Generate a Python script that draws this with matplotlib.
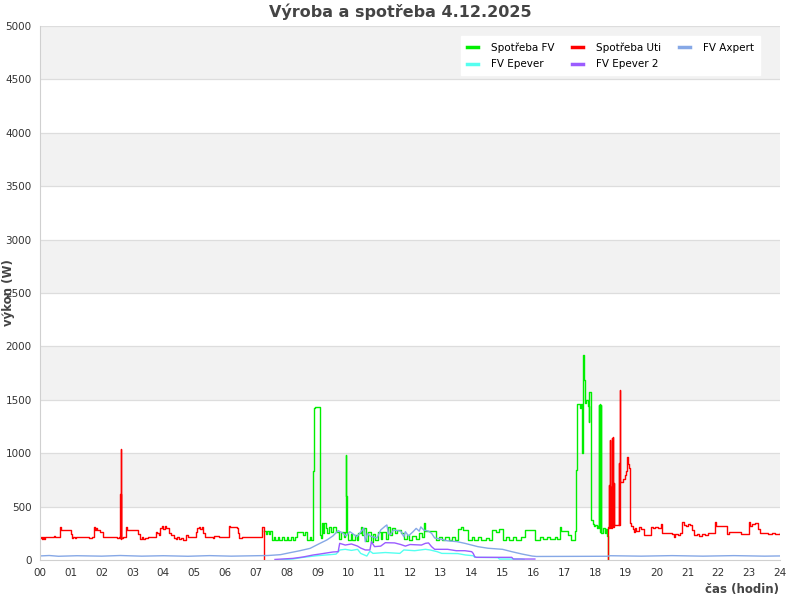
import numpy as np
import matplotlib
matplotlib.use("Agg")
import matplotlib.pyplot as plt

# (hodina, W)
uti_rano = [(0.00, 205), (0.04, 220), (0.06, 195), (0.10, 215), (0.13, 200), (0.17, 220), (0.20, 218),
            (0.45, 228), (0.50, 218), (0.66, 310), (0.69, 278), (1.00, 240), (1.03, 205), (1.07, 218),
            (1.12, 205), (1.17, 218), (1.60, 205), (1.70, 212), (1.74, 310), (1.78, 283), (1.82, 300),
            (1.86, 283), (1.95, 262), (2.05, 218), (2.50, 205), (2.55, 220), (2.58, 205), (2.61, 620),
            (2.62, 200), (2.63, 1040), (2.64, 205), (2.70, 220), (2.78, 260), (2.80, 310), (2.83, 283),
            (3.18, 240), (3.25, 200), (3.30, 215), (3.35, 195), (3.42, 210), (3.50, 220), (3.75, 262),
            (3.80, 250), (3.86, 238), (3.90, 300), (3.95, 320), (4.00, 290), (4.05, 315), (4.10, 295),
            (4.18, 250), (4.25, 232), (4.33, 205), (4.40, 195), (4.45, 212), (4.50, 198), (4.58, 205),
            (4.65, 190), (4.72, 232), (4.80, 218), (5.05, 262), (5.10, 295), (5.15, 310), (5.20, 290),
            (5.25, 310), (5.30, 250), (5.35, 218), (5.60, 205), (5.65, 222), (5.80, 218), (6.12, 315),
            (6.16, 305), (6.25, 312), (6.38, 300), (6.42, 250), (6.47, 205), (6.55, 220), (7.20, 312),
            (7.27, 0), (7.28, 0)]

uti_vecer = [(18.41, 0), (18.43, 310), (18.46, 700), (18.47, 300), (18.49, 1120), (18.50, 320),
             (18.52, 680), (18.53, 300), (18.55, 1140), (18.56, 320), (18.58, 1150), (18.59, 310),
             (18.62, 720), (18.63, 330), (18.78, 910), (18.79, 330), (18.80, 1590), (18.81, 1160),
             (18.82, 730), (18.90, 760), (18.96, 800), (19.00, 830), (19.03, 960), (19.06, 900),
             (19.10, 860), (19.13, 350), (19.17, 320), (19.22, 290), (19.26, 260), (19.30, 300),
             (19.34, 270), (19.42, 310), (19.48, 290), (19.58, 235), (19.72, 232), (19.80, 305),
             (19.88, 300), (19.95, 310), (20.05, 300), (20.14, 337), (20.17, 250), (20.50, 240),
             (20.55, 215), (20.60, 245), (20.70, 230), (20.75, 250), (20.83, 353), (20.88, 330),
             (20.95, 320), (21.02, 335), (21.08, 325), (21.15, 281), (21.22, 234), (21.30, 245),
             (21.38, 225), (21.48, 240), (21.56, 230), (21.67, 256), (21.90, 353), (21.93, 318),
             (22.28, 243), (22.35, 262), (22.75, 243), (22.98, 353), (23.02, 318), (23.10, 335),
             (23.20, 345), (23.28, 290), (23.35, 256), (23.50, 250), (23.62, 240), (23.75, 255),
             (23.85, 245), (24.00, 255)]

fv = [(7.27, 268), (7.33, 240), (7.36, 268), (7.42, 245), (7.46, 268), (7.52, 187), (7.60, 218),
      (7.63, 187), (7.72, 215), (7.75, 187), (7.85, 212), (7.90, 190), (8.00, 220), (8.05, 187),
      (8.15, 215), (8.20, 190), (8.28, 218), (8.33, 265), (8.53, 234), (8.60, 265), (8.66, 187),
      (8.75, 215), (8.78, 187), (8.87, 836), (8.90, 1420), (8.92, 1435), (9.08, 234), (9.12, 210),
      (9.15, 345), (9.18, 250), (9.22, 345), (9.26, 300), (9.32, 250), (9.36, 312), (9.45, 260),
      (9.50, 312), (9.60, 265), (9.70, 200), (9.75, 265), (9.85, 220), (9.90, 265), (9.93, 983),
      (9.94, 600), (9.96, 250), (10.00, 187), (10.08, 240), (10.12, 187), (10.20, 230), (10.28, 187),
      (10.32, 250), (10.40, 312), (10.45, 230), (10.50, 300), (10.58, 180), (10.65, 260), (10.72, 170),
      (10.80, 240), (10.88, 187), (10.95, 265), (11.05, 200), (11.10, 265), (11.22, 200), (11.28, 312),
      (11.36, 230), (11.42, 300), (11.50, 250), (11.58, 280), (11.70, 250), (11.80, 200), (11.90, 230),
      (11.98, 190), (12.08, 225), (12.20, 200), (12.30, 250), (12.40, 220), (12.46, 345), (12.50, 275),
      (12.85, 187), (12.95, 218), (13.05, 187), (13.15, 215), (13.25, 190), (13.35, 218), (13.45, 187),
      (13.55, 290), (13.65, 312), (13.72, 285), (13.88, 187), (14.00, 215), (14.08, 190), (14.20, 218),
      (14.30, 187), (14.45, 210), (14.55, 190), (14.65, 280), (14.80, 265), (14.90, 290), (15.00, 187),
      (15.10, 215), (15.20, 190), (15.35, 218), (15.45, 187), (15.60, 212), (15.73, 280), (16.06, 187),
      (16.20, 215), (16.30, 194), (16.45, 218), (16.55, 194), (16.70, 218), (16.78, 194), (16.87, 306),
      (16.90, 268), (17.12, 234), (17.22, 187), (17.35, 268), (17.39, 843), (17.43, 1458), (17.50, 1423),
      (17.54, 1458), (17.57, 1000), (17.60, 1458), (17.62, 1919), (17.64, 1685), (17.66, 1470),
      (17.72, 1500), (17.76, 1440), (17.80, 1295), (17.82, 1576), (17.86, 375), (17.92, 340),
      (17.96, 320), (18.00, 330), (18.05, 300), (18.10, 320), (18.12, 1450), (18.13, 300), (18.16, 1460),
      (18.17, 260), (18.19, 1450), (18.21, 250), (18.26, 300), (18.32, 250), (18.36, 290), (18.39, 225),
      (18.41, 0)]

axpert = [(0.00, 38), (0.30, 42), (0.60, 35), (1.20, 40), (2.00, 36), (2.60, 42), (3.30, 36), (4.00, 40),
          (4.80, 35), (5.50, 41), (6.20, 36), (7.00, 40), (7.40, 42), (7.80, 50), (8.10, 68), (8.43, 87),
          (8.76, 109), (9.08, 156), (9.30, 187), (9.50, 225), (9.67, 275), (9.83, 250), (9.93, 225),
          (10.05, 265), (10.28, 218), (10.45, 280), (10.50, 300), (10.55, 171), (10.62, 250), (10.70, 225),
          (10.93, 206), (11.05, 281), (11.20, 318), (11.25, 328), (11.30, 250), (11.35, 234), (11.47, 281),
          (11.70, 270), (11.80, 218), (11.85, 265), (11.95, 225), (12.10, 265), (12.20, 296), (12.30, 270),
          (12.35, 310), (12.45, 280), (12.60, 270), (12.70, 250), (12.80, 206), (12.97, 197), (13.20, 180),
          (13.52, 172), (13.78, 156), (14.20, 125), (14.53, 110), (15.00, 100), (15.30, 78), (15.63, 56),
          (15.96, 37), (16.10, 33), (18.40, 35), (18.50, 40), (19.50, 36), (20.50, 41), (21.50, 36),
          (22.50, 41), (23.50, 36), (24.00, 38)]

epever = [(7.80, 3), (8.20, 9), (8.53, 25), (8.98, 40), (9.40, 50), (9.60, 55), (9.73, 94), (9.90, 100),
          (10.10, 90), (10.30, 100), (10.40, 62), (10.60, 37), (10.70, 83), (10.80, 62), (11.20, 70),
          (11.67, 62), (11.80, 94), (12.15, 87), (12.50, 100), (12.65, 94), (12.88, 78), (13.03, 62),
          (13.55, 60), (13.80, 47), (14.05, 40), (14.10, 25), (14.85, 22), (14.90, 9), (15.60, 9),
          (15.70, 5)]

epever2 = [(7.62, 5), (8.20, 15), (8.53, 28), (8.86, 47), (9.08, 56), (9.50, 75), (9.67, 78), (9.72, 156),
           (9.90, 140), (10.10, 150), (10.30, 130), (10.40, 112), (10.55, 94), (10.70, 94), (10.75, 171),
           (10.85, 125), (11.05, 130), (11.20, 162), (11.50, 160), (11.70, 145), (11.85, 130), (12.00, 145),
           (12.37, 140), (12.50, 156), (12.60, 160), (12.70, 125), (12.80, 100), (13.22, 100), (13.50, 87),
           (13.78, 87), (14.00, 78), (14.05, 62), (14.10, 31), (14.15, 25), (15.30, 25), (15.35, 9),
           (16.05, 9)]

hodiny = ["%02d" % h for h in range(25)]
y_ticks = list(range(0, 5001, 500))


def xy(pairs):
    a = np.array(pairs, dtype=float)
    return a[:, 0], a[:, 1]


fig = plt.figure(figsize=(8, 6), dpi=100)
ax = fig.add_axes([40 / 800, 40 / 600, 740 / 800, 534 / 600])

# stridane pasy
for lo in range(500, 5000, 1000):
    ax.axhspan(lo, lo + 500, color="#f2f2f2", zorder=0, lw=0)
for v in y_ticks[1:]:
    ax.axhline(v, color="#dddddd", lw=0.9, zorder=0.5)

t, v = xy(fv)
l_fv, = ax.plot(t, v, color="#00ee00", lw=1.0, drawstyle="steps-post", label="Spotřeba FV")
t, v = xy(uti_rano)
l_uti, = ax.plot(t, v, color="#ff0000", lw=1.0, drawstyle="steps-post", label="Spotřeba Uti")
t, v = xy(uti_vecer)
ax.plot(t, v, color="#ff0000", lw=1.0, drawstyle="steps-post")
t, v = xy(axpert)
l_ax, = ax.plot(t, v, color="#86a8e6", lw=1.0, label="FV Axpert")
t, v = xy(epever)
l_ep, = ax.plot(t, v, color="#55fff0", lw=1.0, label="FV Epever")
t, v = xy(epever2)
l_ep2, = ax.plot(t, v, color="#9b5cff", lw=1.0, label="FV Epever 2")

ax.set_xlim(0, 24)
ax.set_ylim(0, 5000)
ax.set_xticks(range(25))
ax.set_xticklabels(hodiny)
ax.set_yticks(y_ticks)
ax.tick_params(length=0, labelsize=7.5, colors="#333333", pad=6)
for s in ["top", "right"]:
    ax.spines[s].set_visible(False)
for s in ["left", "bottom"]:
    ax.spines[s].set_color("#d0d0d0")

leg = ax.legend([l_fv, l_ep, l_uti, l_ep2, l_ax],
                ["Spotřeba FV", "FV Epever", "Spotřeba Uti", "FV Epever 2", "FV Axpert"],
                ncol=3, loc="upper right", bbox_to_anchor=(0.973, 0.981), borderaxespad=0,
                fontsize=7.5, frameon=True, fancybox=False, handlelength=1.1,
                columnspacing=1.7, handletextpad=1.2, labelspacing=0.6, borderpad=0.6)
leg.get_frame().set_edgecolor("white")
leg.get_frame().set_facecolor("white")
leg.get_frame().set_alpha(1)
for h in leg.get_lines():
    h.set_linewidth(2.5)

fig.text(0.5, 1 - 12 / 600, "Výroba a spotřeba 4.12.2025", ha="center", va="center",
         fontsize=11.5, fontweight="bold", color="#444444")
fig.text(9 / 800, 1 - 293 / 600, "výkon (W)", rotation=90, ha="center", va="center",
         fontsize=8.5, fontweight="bold", color="#444444")
fig.text(779 / 800, 1 - 590 / 600, "čas (hodin)", ha="right", va="center",
         fontsize=8.5, fontweight="bold", color="#444444")

fig.savefig("out.png", dpi=100)
